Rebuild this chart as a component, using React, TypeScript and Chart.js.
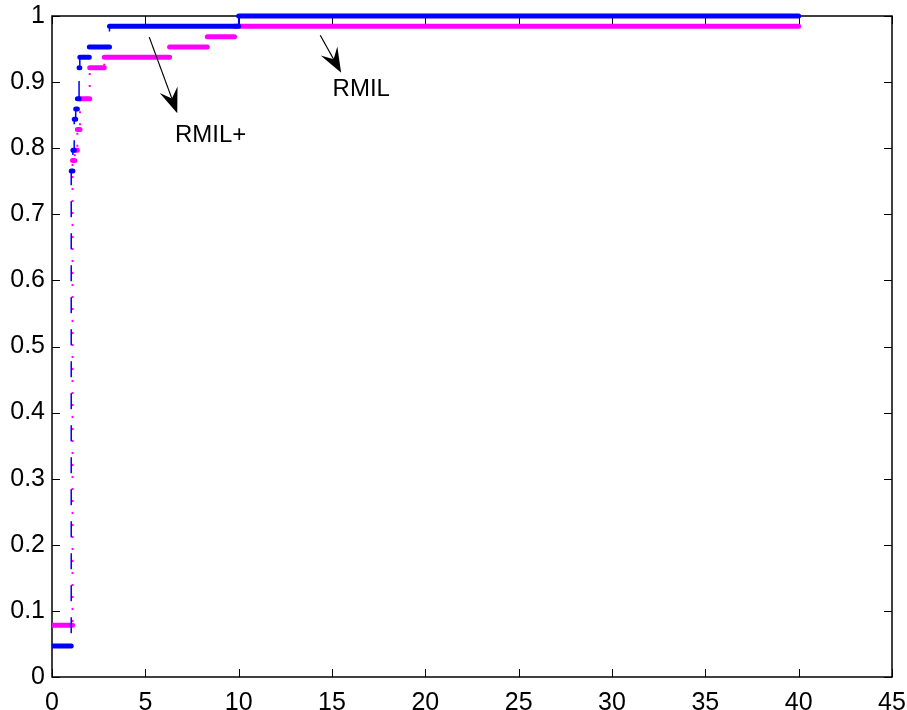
import React, { useEffect, useRef } from "react";
import { Chart, registerables } from "chart.js";

Chart.register(...registerables);

// Step breakpoints (x where the step starts) and profile values
const BLUE_X = [0, 1.03, 1.12, 1.19, 1.27, 1.36, 1.45, 1.49, 2.0, 3.08, 10.0];
const BLUE_Y = [3 / 64, 49 / 64, 51 / 64, 54 / 64, 55 / 64, 56 / 64, 59 / 64, 60 / 64, 61 / 64, 63 / 64, 1];
const MAGENTA_X = [0, 1.1, 1.22, 1.36, 1.5, 2.02, 2.8, 6.3, 8.32, 9.78];
const MAGENTA_Y = [5 / 64, 50 / 64, 51 / 64, 53 / 64, 56 / 64, 59 / 64, 60 / 64, 61 / 64, 62 / 64, 63 / 64];
const X_END = 40;

const X_TICKS = [0, 5, 10, 15, 20, 25, 30, 35, 40, 45];
const Y_TICKS = [0, 0.1, 0.2, 0.3, 0.4, 0.5, 0.6, 0.7, 0.8, 0.9, 1];

// Text annotations with arrows
const ANNOT_TEXT = ["RMIL+", "RMIL"];
const ANNOT_TEXT_X = [6.59, 15.03];
const ANNOT_TEXT_Y = [0.809, 0.879];
const ARROW_FROM_X = [5.21, 14.37];
const ARROW_FROM_Y = [0.968, 0.971];
const ARROW_TO_X = [6.71, 15.49];
const ARROW_TO_Y = [0.853, 0.914];

const BLUE = "#0000ff";
const MAGENTA = "#ff00ff";
const FONT = "'Liberation Sans', Arial, Helvetica, sans-serif";

function stepPoints(X: number[], Y: number[]) {
  const pts = X.map((x, i) => ({ x, y: Y[i] as number | null }));
  pts.push({ x: X_END, y: Y[Y.length - 1] });
  return pts;
}

function flatPoints(X: number[], Y: number[]) {
  const out: { x: number; y: number | null }[] = [];
  X.forEach((x, i) => {
    const x1 = i + 1 < X.length ? X[i + 1] : X_END;
    out.push({ x, y: Y[i] }, { x: x1, y: Y[i] }, { x: x1, y: null });
  });
  return out;
}

const boxPlugin = {
  id: "matlabBox",
  beforeDatasetsDraw(chart: any) {
    const { ctx, chartArea, scales } = chart;
    const { left, right, top, bottom } = chartArea;
    const xs = scales.x;
    const ys = scales.y;
    ctx.save();
    ctx.strokeStyle = "#000";
    ctx.lineWidth = 1;
    ctx.beginPath();
    const tl = 8;
    for (const t of X_TICKS) {
      const px = Math.round(xs.getPixelForValue(t)) + 0.5;
      ctx.moveTo(px, bottom);
      ctx.lineTo(px, bottom - tl);
      ctx.moveTo(px, top);
      ctx.lineTo(px, top + tl);
    }
    for (const t of Y_TICKS) {
      const py = Math.round(ys.getPixelForValue(t)) + 0.5;
      ctx.moveTo(left, py);
      ctx.lineTo(left + tl, py);
      ctx.moveTo(right, py);
      ctx.lineTo(right - tl, py);
    }
    ctx.stroke();
    ctx.lineWidth = 1.5;
    ctx.strokeRect(left, top, right - left, bottom - top);
    ctx.restore();
  },
  afterDatasetsDraw(chart: any) {
    const { ctx, scales } = chart;
    const xs = scales.x;
    const ys = scales.y;
    ctx.save();
    ctx.strokeStyle = "#000";
    ctx.fillStyle = "#000";
    for (let i = 0; i < ANNOT_TEXT.length; i++) {
      const x0 = xs.getPixelForValue(ARROW_FROM_X[i]);
      const y0 = ys.getPixelForValue(ARROW_FROM_Y[i]);
      const x1 = xs.getPixelForValue(ARROW_TO_X[i]);
      const y1 = ys.getPixelForValue(ARROW_TO_Y[i]);
      const dx = x1 - x0;
      const dy = y1 - y0;
      const len = Math.hypot(dx, dy);
      const ux = dx / len;
      const uy = dy / len;
      const nx = -uy;
      const ny = ux;
      const L = 25;
      const W = 9.5;
      const notch = 0.62 * L;
      ctx.lineWidth = 1.2;
      ctx.beginPath();
      ctx.moveTo(x0, y0);
      ctx.lineTo(x1 - ux * notch, y1 - uy * notch);
      ctx.stroke();
      ctx.beginPath();
      ctx.moveTo(x1, y1);
      ctx.lineTo(x1 - ux * L + nx * W, y1 - uy * L + ny * W);
      ctx.lineTo(x1 - ux * notch, y1 - uy * notch);
      ctx.lineTo(x1 - ux * L - nx * W, y1 - uy * L - ny * W);
      ctx.closePath();
      ctx.fill();

      ctx.font = `24px ${FONT}`;
      ctx.textAlign = "left";
      ctx.textBaseline = "alphabetic";
      ctx.fillText(
        ANNOT_TEXT[i],
        xs.getPixelForValue(ANNOT_TEXT_X[i]),
        ys.getPixelForValue(ANNOT_TEXT_Y[i])
      );
    }
    ctx.restore();
  },
};

export default function App() {
  const ref = useRef<HTMLCanvasElement | null>(null);

  useEffect(() => {
    document.body.style.margin = "0";
    document.body.style.background = "#fff";
    const canvas = ref.current;
    if (!canvas) return;
    Chart.defaults.font.family = FONT;

    const clip = { left: 0, top: 6, right: 0, bottom: 0 };
    const chart = new Chart(canvas, {
      type: "line",
      data: {
        datasets: [
          {
            label: "blue-flat",
            data: flatPoints(BLUE_X, BLUE_Y),
            borderColor: BLUE,
            borderWidth: 5,
            borderCapStyle: "round",
            stepped: true,
            spanGaps: false,
            pointRadius: 0,
            clip,
          },
          {
            label: "blue",
            data: stepPoints(BLUE_X, BLUE_Y),
            borderColor: BLUE,
            borderWidth: 1.5,
            borderDash: [16, 16],
            stepped: true,
            pointRadius: 0,
            clip,
          },
          {
            label: "magenta-flat",
            data: flatPoints(MAGENTA_X, MAGENTA_Y),
            borderColor: MAGENTA,
            borderWidth: 5,
            borderCapStyle: "round",
            stepped: true,
            spanGaps: false,
            pointRadius: 0,
            clip,
          },
          {
            label: "magenta",
            data: stepPoints(MAGENTA_X, MAGENTA_Y),
            borderColor: MAGENTA,
            borderWidth: 2,
            borderDash: [2, 10],
            stepped: true,
            pointRadius: 0,
            clip,
          },
        ],
      } as any,
      options: {
        responsive: false,
        animation: false,
        devicePixelRatio: 1,
        events: [],
        layout: { padding: { top: 16, right: 15, left: 0, bottom: 0 } },
        plugins: {
          legend: { display: false },
          tooltip: { enabled: false },
        },
        scales: {
          x: {
            type: "linear",
            min: 0,
            max: 45,
            afterBuildTicks: (s: any) => {
              s.ticks = X_TICKS.map((v) => ({ value: v }));
            },
            afterFit: (s: any) => {
              s.height = 33;
              s.paddingLeft = 0;
              s.paddingRight = 0;
            },
            ticks: {
              autoSkip: false,
              maxRotation: 0,
              padding: 11,
              color: "#000",
              font: { size: 25, family: FONT },
              callback: (v: any) => String(v),
            },
            grid: { display: false, drawTicks: false },
            border: { display: false },
          },
          y: {
            type: "linear",
            min: 0,
            max: 1,
            afterBuildTicks: (s: any) => {
              s.ticks = Y_TICKS.map((v) => ({ value: v }));
            },
            afterFit: (s: any) => {
              s.width = 52;
              s.paddingTop = 0;
              s.paddingBottom = 0;
            },
            ticks: {
              autoSkip: false,
              padding: 7,
              color: "#000",
              font: { size: 25, family: FONT },
              callback: (v: any) => String(v),
            },
            grid: { display: false, drawTicks: false },
            border: { display: false },
          },
        },
      } as any,
      plugins: [boxPlugin],
    });
    return () => chart.destroy();
  }, []);

  return (
    <div style={{ width: 907, height: 710, background: "#fff" }}>
      <canvas ref={ref} width={907} height={710} style={{ display: "block" }} />
    </div>
  );
}
